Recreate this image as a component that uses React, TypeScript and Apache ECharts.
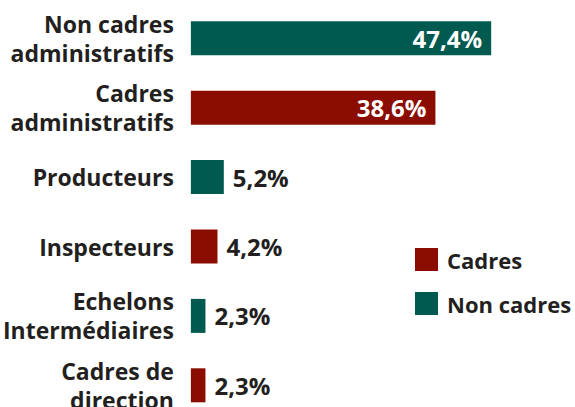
import React, { useEffect, useRef } from "react";
import * as echarts from "echarts";

const categories = [
  "Non cadres\nadministratifs",
  "Cadres\nadministratifs",
  "Producteurs",
  "Inspecteurs",
  "Echelons\nIntermédiaires",
  "Cadres de\ndirection",
];
const nonCadres: (number | string)[] = [47.4, "-", 5.2, "-", 2.3, "-"];
const cadres: (number | string)[] = ["-", 38.6, "-", 4.2, "-", 2.3];
const insideThreshold = 20;

const GREEN = "#005a50";
const RED = "#8b0c00";
const TEXT = "#231f20";
const FONT = "'Open Sans', sans-serif";

const fmt = (v: number) => v.toFixed(1).replace(".", ",") + "%";

function mkData(vals: (number | string)[]) {
  return vals.map((v) => {
    if (typeof v !== "number") return v;
    const inside = v > insideThreshold;
    return {
      value: v,
      label: inside
        ? { position: "insideRight", color: "#ffffff", distance: 9 }
        : { position: "right", color: TEXT, distance: 9 },
    };
  });
}

export default function App() {
  const ref = useRef<HTMLDivElement>(null);
  useEffect(() => {
    if (!ref.current) return;
    const chart = echarts.init(ref.current, null, { renderer: "svg" });
    const labelCommon = {
      show: true,
      fontFamily: FONT,
      fontWeight: "bold",
      fontSize: 24,
      formatter: (p: any) => fmt(p.value),
    };
    chart.setOption({
      animation: false,
      grid: { left: 189, right: 4, top: 3.6, height: 416.4, containLabel: false },
      legend: {
        orient: "vertical",
        left: 415,
        top: 248,
        padding: 0,
        itemWidth: 23,
        itemHeight: 23,
        itemGap: 21,
        icon: "rect",
        data: ["Cadres", "Non cadres"],
        textStyle: {
          fontFamily: FONT,
          fontWeight: "bold",
          fontSize: 22,
          color: TEXT,
          padding: [0, 0, 0, 4],
        },
      },
      xAxis: {
        type: "value",
        min: 0,
        max: 60,
        show: false,
        splitLine: { show: false },
      },
      yAxis: {
        type: "category",
        inverse: true,
        data: categories,
        axisLine: { show: false },
        axisTick: { show: false },
        axisLabel: {
          margin: 17,
          fontFamily: FONT,
          fontWeight: "bold",
          fontSize: 23,
          lineHeight: 29,
          color: TEXT,
          align: "right",
        },
      },
      series: [
        {
          name: "Non cadres",
          type: "bar",
          barWidth: 34,
          barGap: "-100%",
          itemStyle: { color: GREEN },
          label: labelCommon,
          data: mkData(nonCadres),
        },
        {
          name: "Cadres",
          type: "bar",
          barWidth: 34,
          barGap: "-100%",
          itemStyle: { color: RED },
          label: labelCommon,
          data: mkData(cadres),
        },
      ],
    });
    return () => chart.dispose();
  }, []);
  return (
    <div
      ref={ref}
      style={{ position: "fixed", left: 0, top: 0, width: 575, height: 430, background: "#fff" }}
    />
  );
}
